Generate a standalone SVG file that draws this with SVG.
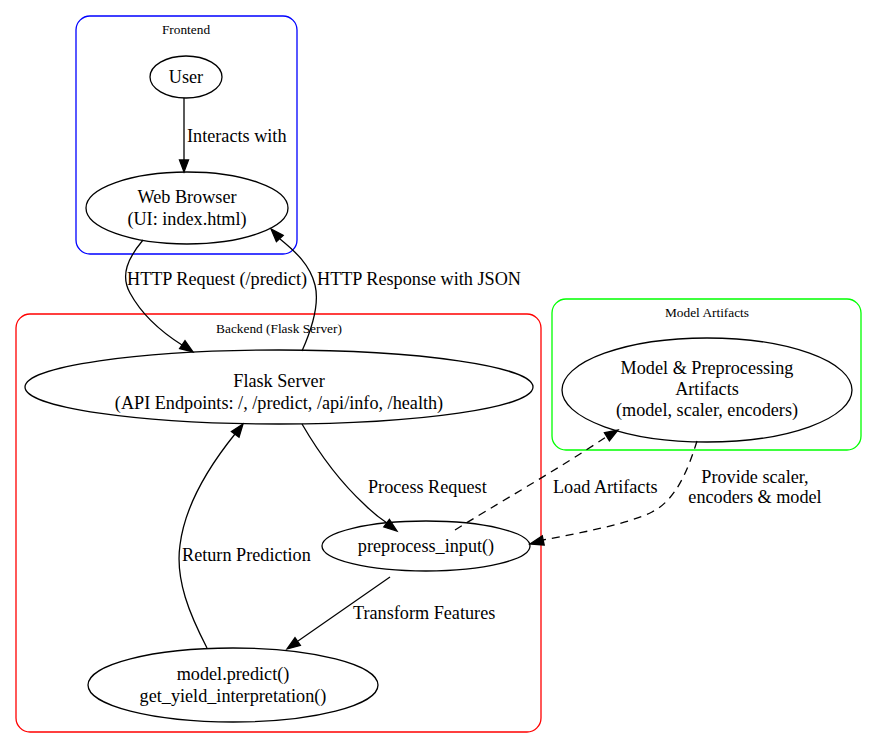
<svg xmlns="http://www.w3.org/2000/svg" width="877" height="748" viewBox="0 0 877 748">
<style>
.bg{fill:#fff}
.cl{fill:none;stroke-width:1.3}
.cllbl{font-family:"Liberation Serif",serif;font-size:13.33px;text-anchor:middle;fill:#000}
.nd{fill:none;stroke:#000;stroke-width:1.3}
.t{font-family:"Liberation Serif",serif;font-size:18.2px;text-anchor:middle;fill:#000}
.el{font-family:"Liberation Serif",serif;font-size:18.2px;fill:#000}
.elc{font-family:"Liberation Serif",serif;font-size:18.2px;fill:#000;text-anchor:middle}
.e{fill:none;stroke:#000;stroke-width:1.3}
.d{stroke-dasharray:8,6}
.ah{fill:#000;stroke:#000;stroke-width:1.3}
</style>
<rect class="bg" x="0" y="0" width="877" height="748"/>
<g id="cluster_frontend">
<rect class="cl" x="76" y="16" width="221" height="238" rx="14" stroke="#0000ff"/>
<text class="cllbl" x="186" y="34">Frontend</text>
</g>
<g id="cluster_backend">
<rect class="cl" x="16" y="314" width="525" height="418" rx="14" stroke="#ff0000"/>
<text class="cllbl" x="279" y="333">Backend (Flask Server)</text>
</g>
<g id="cluster_artifacts">
<rect class="cl" x="552" y="299" width="309" height="151" rx="14" stroke="#00ff00"/>
<text class="cllbl" x="707" y="317">Model Artifacts</text>
</g>
<g id="user">
<ellipse class="nd" cx="186" cy="77" rx="36" ry="21"/>
<text class="t" x="186" y="83">User</text>
</g>
<g id="browser">
<ellipse class="nd" cx="187" cy="208" rx="101" ry="36"/>
<text class="t" x="187" y="203">Web Browser</text>
<text class="t" x="187" y="225">(UI: index.html)</text>
</g>
<g id="flask">
<ellipse class="nd" cx="279" cy="387" rx="254" ry="37"/>
<text class="t" x="279" y="387">Flask Server</text>
<text class="t" x="279" y="409">(API Endpoints: /, /predict, /api/info, /health)</text>
</g>
<g id="preprocess">
<ellipse class="nd" cx="426" cy="546" rx="104" ry="25"/>
<text class="t" x="426" y="552">preprocess_input()</text>
</g>
<g id="predict">
<ellipse class="nd" cx="233" cy="685" rx="145" ry="37"/>
<text class="t" x="233" y="680">model.predict()</text>
<text class="t" x="233" y="702">get_yield_interpretation()</text>
</g>
<g id="artifacts">
<ellipse class="nd" cx="707" cy="390" rx="145" ry="52"/>
<text class="t" x="707" y="374">Model &amp; Preprocessing</text>
<text class="t" x="707" y="395">Artifacts</text>
<text class="t" x="707" y="416">(model, scaler, encoders)</text>
</g>
<g id="edges">
<path class="e" d="M184,98 L184,160"/>
<polygon class="ah" points="179.5,160 184,172 188.5,160"/>
<text class="el" x="187" y="142">Interacts with</text>

<path class="e" d="M143,240 C128,258 120,275 130,293 C142,315 163,333 182,345"/>
<polygon class="ah" points="179.6,348.5 193,352 185,340.7"/>
<text class="el" x="127" y="285">HTTP Request (/predict)</text>

<path class="e" d="M302,351 C310,333 320,305 315,285 C310,265 296,252 280,239"/>
<polygon class="ah" points="283.2,235.3 271,229 276.4,241.7"/>
<text class="el" x="317" y="285">HTTP Response with JSON</text>

<path class="e" d="M302,424 C320,455 340,482 365,505 C372,512 378,517 387,523"/>
<polygon class="ah" points="383.8,527 397,531 389.4,519.4"/>
<text class="el" x="368" y="493">Process Request</text>

<path class="e d" d="M455,530 C490,508 560,468 606,437"/>
<polygon class="ah" points="609.4,440.8 618,430 604.4,432.8"/>
<text class="el" x="553" y="493">Load Artifacts</text>

<path class="e d" d="M697,441 C688,470 676,500 652,512 C628,524 580,533 543,540"/>
<polygon class="ah" points="544.2,545 530,544 542.3,535.8"/>
<text class="elc" x="755" y="483">Provide scaler,</text>
<text class="elc" x="755" y="503">encoders &amp; model</text>

<path class="e" d="M390,577 L298,641"/>
<polygon class="ah" points="300.4,645.4 287,649 295,637.7"/>
<text class="el" x="353" y="619">Transform Features</text>

<path class="e" d="M207,648 C190,615 175,580 180,545 C185,505 210,465 235,434"/>
<polygon class="ah" points="239,437.2 243,424 231.4,431.6"/>
<text class="el" x="182" y="561">Return Prediction</text>
</g>
</svg>
